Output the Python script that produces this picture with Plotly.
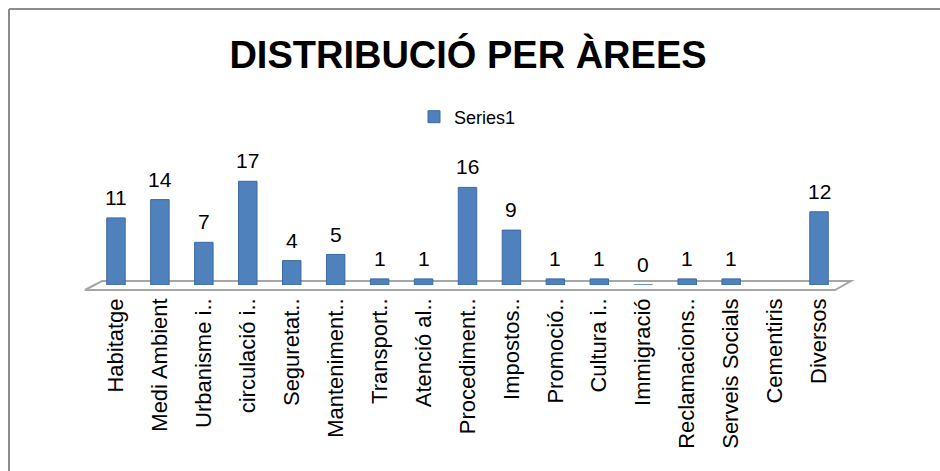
import plotly.graph_objects as go

categories = ["Habitatge", "Medi Ambient", "Urbanisme i..", "circulació i..", "Seguretat..",
              "Manteniment..", "Transport..", "Atenció al..", "Procediment..", "Impostos..",
              "Promoció..", "Cultura i..", "Immigració", "Reclamacions..", "Serveis Socials",
              "Cementiris", "Diversos"]
values = [11, 14, 7, 17, 4, 5, 1, 1, 16, 9, 1, 1, 0, 1, 1, None, 12]
series_name = "Series1"
title_text = "DISTRIBUCIÓ PER ÀREES"

W, H = 940, 471
left_f, right_f = 94, 841
base_f, top_f = 285, 163
pw, ph = right_f - left_f, base_f - top_f

def px(X):  # screen x -> plot paper
    return (X - left_f) / pw

def py(Y):  # screen y -> plot paper
    return (base_f - Y) / ph

fig = go.Figure()
fig.add_trace(go.Bar(
    x=categories, y=values, name=series_name,
    marker=dict(color="#4F81BD", line=dict(color="#3B6AA3", width=1)),
    width=0.42, showlegend=True,
))

annotations = []
for c, v in zip(categories, values):
    if v is None:
        continue
    annotations.append(dict(x=c, y=v, xref="x", yref="y", text=str(v), showarrow=False,
                            yanchor="bottom", yshift=7,
                            font=dict(family="Liberation Sans, Arial", size=21, color="#000")))

shapes = [
    dict(type="line", xref="paper", yref="paper", x0=px(9), y0=py(9), x1=px(945), y1=py(9),
         line=dict(color="#8C8C8C", width=2)),
    dict(type="line", xref="paper", yref="paper", x0=px(9), y0=py(9), x1=px(9), y1=py(475),
         line=dict(color="#8C8C8C", width=2)),
    dict(type="path", xref="paper", yref="paper", layer="below",
         path=f"M {px(85)},{py(290)} L {px(102)},{py(281)} L {px(851)},{py(281)} L {px(835)},{py(290)} Z",
         line=dict(color="#A6A6A6", width=2), fillcolor="rgba(255,255,255,0)"),
]

fig.update_layout(
    width=W, height=H,
    paper_bgcolor="white", plot_bgcolor="rgba(0,0,0,0)",
    margin=dict(l=left_f, r=W - right_f, t=top_f, b=H - base_f, autoexpand=False),
    title=dict(text=f"<b>{title_text}</b>", x=468 / W, xanchor="center",
               y=1 - 55 / H, yanchor="middle",
               font=dict(family="Liberation Sans, Arial", size=38, color="#000")),
    legend=dict(orientation="h", x=px(414), xanchor="left", y=py(117), yanchor="middle",
                font=dict(family="Liberation Sans, Arial", size=18, color="#000"),
                bgcolor="rgba(0,0,0,0)"),
    xaxis=dict(type="category", tickangle=-90, showgrid=False, showline=False, zeroline=False,
               ticks="", ticklabelstandoff=8, automargin=False,
               tickfont=dict(family="Liberation Sans, Arial", size=22, color="#000")),
    yaxis=dict(range=[0, 20], visible=False, showgrid=False, zeroline=False, automargin=False),
    annotations=annotations,
    shapes=shapes,
)

fig.write_html("out.html", config={"displayModeBar": False},
               post_script="document.body.style.margin='0';document.body.style.overflow='hidden';")
